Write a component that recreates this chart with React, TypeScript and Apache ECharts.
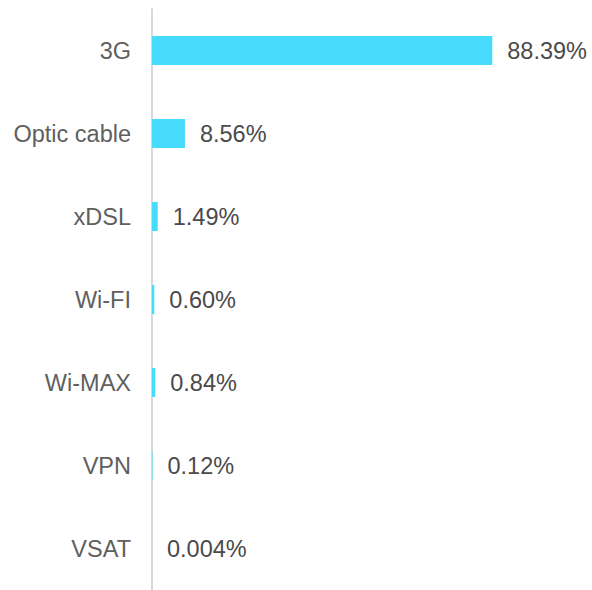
import React, { useEffect, useRef } from "react";
import * as echarts from "echarts";

const categories = ["3G", "Optic cable", "xDSL", "Wi-FI", "Wi-MAX", "VPN", "VSAT"];
const values = [88.39, 8.56, 1.49, 0.6, 0.84, 0.12, 0.004];
const valueLabels = ["88.39%", "8.56%", "1.49%", "0.60%", "0.84%", "0.12%", "0.004%"];

const FONT = "'Liberation Sans', Arial, sans-serif";

export default function App() {
  const ref = useRef<HTMLDivElement>(null);
  useEffect(() => {
    if (!ref.current) return;
    const chart = echarts.init(ref.current, null, { renderer: "svg" });
    chart.setOption({
      animation: false,
      backgroundColor: "#ffffff",
      grid: { left: 152, top: 9, width: 385, height: 588 },
      xAxis: {
        type: "value",
        min: 0,
        max: 100,
        show: false,
      },
      yAxis: {
        type: "category",
        data: categories,
        inverse: true,
        axisLine: { show: true, lineStyle: { color: "#d9d9d9", width: 2 } },
        axisTick: { show: false },
        axisLabel: {
          color: "#5f5f5f",
          fontSize: 23.5,
          fontFamily: FONT,
          margin: 21,
        },
      },
      series: [
        {
          type: "bar",
          data: values,
          barWidth: 29,
          itemStyle: { color: "#48DCFC" },
          label: {
            show: true,
            position: "right",
            distance: 15,
            color: "#4a4a4a",
            fontSize: 23.5,
            fontFamily: FONT,
            formatter: (p: any) => valueLabels[p.dataIndex],
          },
        },
      ],
    });
    return () => chart.dispose();
  }, []);
  return (
    <div
      ref={ref}
      style={{ position: "fixed", left: 0, top: 0, width: 592, height: 590 }}
    />
  );
}
